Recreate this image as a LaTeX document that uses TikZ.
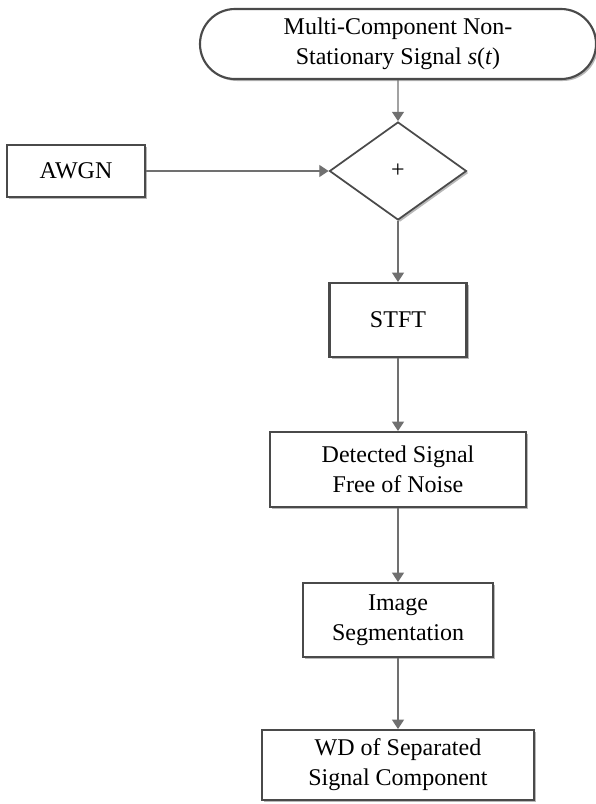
\documentclass[tikz,border=0pt]{standalone}
\usepackage{fontspec}
\setmainfont{Liberation Serif}
\usetikzlibrary{shapes.misc,shapes.geometric,arrows.meta,shadows}
\definecolor{edgegray}{HTML}{4A4A4A}
\definecolor{linegray}{HTML}{707070}

\begin{document}
\begin{tikzpicture}[x=0.75pt,y=-0.75pt,
    font=\fontsize{18}{22.5}\selectfont,
    boxshadow/.style={drop shadow={shadow xshift=1.5pt,shadow yshift=-1.5pt,fill=black!28,opacity=1}},
    block/.style={draw=edgegray,line width=1.6pt,fill=white,align=center,inner sep=0pt,boxshadow},
    terminal/.style={block,rounded rectangle},
    junction/.style={block,diamond,line width=1.3pt},
    flow/.style={draw=linegray,line width=1pt,-{Triangle[length=7pt,width=9pt]}}]
    \useasboundingbox (0,0) rectangle (596,804);

    % input signal and noise
    \node[terminal,minimum width=297pt,minimum height=52.5pt] (sig) at (398,44) {Multi-Component Non-\\Stationary Signal \textit{s}(\textit{t})};
    \node[block,minimum width=103.5pt,minimum height=39pt] (awgn) at (76,171) {AWGN};
    \node[junction,minimum width=102.75pt,minimum height=73.5pt] (add) at (398,171) {+};

    % processing chain
    \node[block,minimum width=102.75pt,minimum height=55.5pt] (stft) at (398,320) {STFT};
    \node[block,minimum width=192pt,minimum height=56.25pt] (det) at (398,469.5) {Detected Signal\\Free of Noise};
    \node[block,minimum width=142.5pt,minimum height=55.5pt] (seg) at (398,620) {Image\\Segmentation};
    \node[block,minimum width=204pt,minimum height=52.5pt] (wd) at (398,765) {WD of Separated\\Signal Component};

    \draw[flow] (sig) -- (add);
    \draw[flow] (awgn) -- (add);
    \draw[flow] (add) -- (stft);
    \draw[flow] (stft) -- (det);
    \draw[flow] (det) -- (seg);
    \draw[flow] (seg) -- (wd);
\end{tikzpicture}
\end{document}
